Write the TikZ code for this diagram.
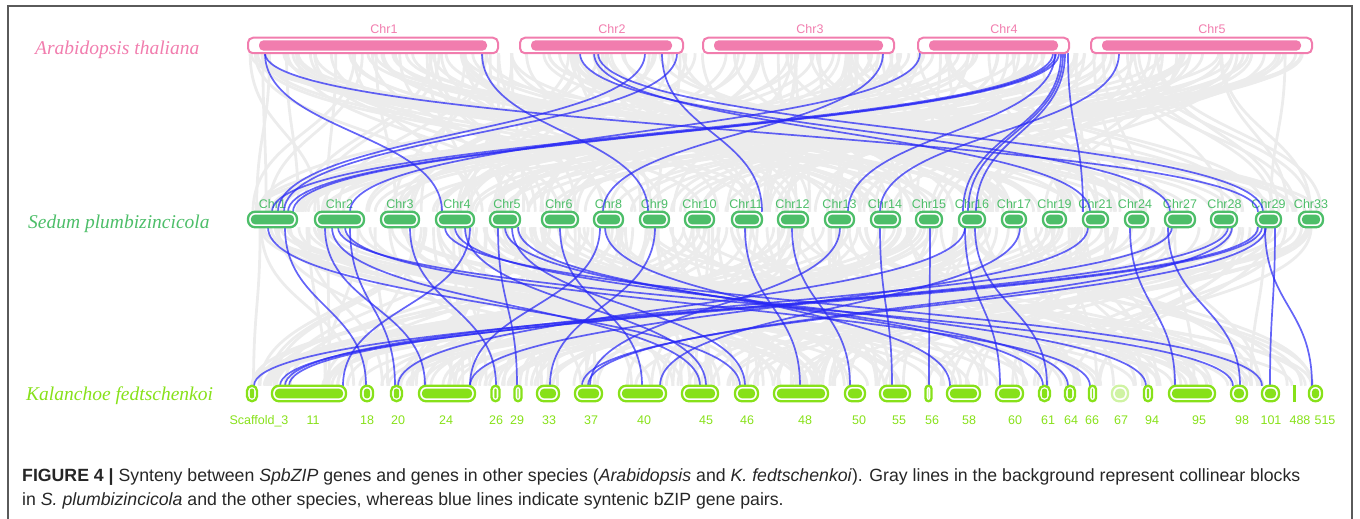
\documentclass[tikz,border=0pt]{standalone}
\usepackage{fontspec}
\setmainfont{Liberation Serif}
\setsansfont{Liberation Sans}
\usetikzlibrary{calc}
\definecolor{atpink}{RGB}{241,125,174}
\definecolor{spgreen}{RGB}{77,190,105}
\definecolor{klime}{RGB}{135,225,25}
\definecolor{synblue}{RGB}{40,40,245}
\definecolor{bggray}{RGB}{236,236,236}
\definecolor{framegray}{RGB}{90,90,90}
\pgfdeclarelayer{graylayer}
\pgfdeclarelayer{lablayer}
\pgfdeclarelayer{bluelayer}
\pgfsetlayers{graylayer,lablayer,bluelayer,main}
\tikzset{
  chrbase/.style={inner sep=0pt, outer sep=0pt, minimum height=15.5pt, fill=white, line width=2pt},
  atchr/.style={chrbase, draw=atpink, rounded corners=5pt,
    path picture={\fill[atpink, rounded corners=4.5pt] ([shift={(11pt,-2.6pt)}]path picture bounding box.north west) rectangle ([shift={(-11pt,2.6pt)}]path picture bounding box.south east);}},
  spchr/.style={chrbase, draw=spgreen, line width=2.3pt, rounded corners=7pt,
    path picture={\fill[spgreen, rounded corners=4.5pt] ([shift={(2.8pt,-2.8pt)}]path picture bounding box.north west) rectangle ([shift={(-2.8pt,2.8pt)}]path picture bounding box.south east);}},
  kchr/.style={chrbase, draw=#1, line width=2.3pt,
    path picture={\fill[#1, rounded corners=\ir pt] ([shift={(2.8pt,-2.8pt)}]path picture bounding box.north west) rectangle ([shift={(-2.8pt,2.8pt)}]path picture bounding box.south east);}},
  kchr/.default=klime,
  chrlab/.style={font=\sffamily\fontsize{12.5}{13}\selectfont, inner sep=0pt, anchor=base},
  species/.style={font=\itshape\fontsize{19.5}{20}\selectfont, inner sep=0pt, anchor=base west},
  blueln/.style={draw=synblue, draw opacity=0.72, line width=1.7pt},
  grayln/.style={draw=bggray, line width=2.8pt},
  captxt/.style={font=\sffamily\fontsize{17.7}{20}\selectfont, inner sep=0pt, anchor=base west, text=black!85},
}
\newcommand\kbox[5][klime]{%
  \pgfmathsetmacro\ir{max(0.4,min(#5-2.5,(#4-5.6)/2-0.1))}%
  \node[kchr=#1, minimum width=#4pt, rounded corners=#5pt] (#2) at (#3,393.5) {};}
\newcommand\tl[4]{\draw[blueln] let \p1=(#1.south), \p2=(#3.north) in (#2pt,\y1) .. controls (#2pt,\y1-78pt) and (#4pt,\y2+78pt) .. (#4pt,\y2);}
\newcommand\bl[4]{\draw[blueln] let \p1=(#1.south), \p2=(#3.north) in (#2pt,\y1) .. controls (#2pt,\y1-78pt) and (#4pt,\y2+78pt) .. (#4pt,\y2);}
\newcommand\gl[4]{\draw[grayln] let \p1=(#1.south), \p2=(#3.north) in (#2pt,\y1) .. controls (#2pt,\y1-78pt) and (#4pt,\y2+78pt) .. (#4pt,\y2);}
\begin{document}
\begin{tikzpicture}[x=1pt,y=-1pt]
\useasboundingbox (0,0) rectangle (1360,519);
% frame
\draw[framegray, line width=1.3pt] (8,519) -- (8,6) -- (1352,6) -- (1352,519);
% species names
\node[species, text=atpink] (atname) at (35,54.5) {Arabidopsis thaliana};
\node[species, text=spgreen] (spname) at (28,228) {Sedum plumbizincicola};
\node[species, text=klime] (kname) at (26,400) {Kalanchoe fedtschenkoi};
% Arabidopsis chromosomes
\node[atchr, minimum width=250pt] (at1) at (373,45.5) {};
\node[atchr, minimum width=163pt] (at2) at (601.5,45.5) {};
\node[atchr, minimum width=191pt] (at3) at (798.5,45.5) {};
\node[atchr, minimum width=151pt] (at4) at (993.5,45.5) {};
\node[atchr, minimum width=221pt] (at5) at (1201.5,45.5) {};
\foreach \n/\x in {1/384,2/612,3/810,4/1004,5/1212}{
  \node[chrlab, text=atpink] (atl\n) at (\x,34) {Chr\n};
}
% Sedum chromosomes
\foreach \n/\c/\w in {1/272.5/49,2/339.5/49,3/400/38,4/455/38,5/505/30,6/560/36,8/608.5/29,9/654.5/29,10/699.5/29,11/747/30,12/793/30,13/839.5/29,14/885.5/29,15/929/26,16/972/26,17/1014/24,19/1054.5/23,21/1095.5/25,24/1136.5/23,27/1180/30,28/1224/26,29/1268.5/25,33/1311/24}{
  \node[spchr, minimum width=\w pt] (sp\n) at (\c,219.5) {};
}
\begin{pgfonlayer}{lablayer}
\foreach \n/\c in {1/272.5,2/339.5,3/400,4/457,5/507,6/559,8/608.5,9/654.5,10/699.5,11/746,12/792.5,13/839.5,14/885,15/929,16/972,17/1014,19/1054.5,21/1095.5,24/1135,27/1180,28/1224.5,29/1268.5,33/1311}{
  \node[chrlab, text=spgreen] (spl\n) at (\c,208.5) {Chr\n};
}
\end{pgfonlayer}
% Kalanchoe chromosomes
\kbox{k3}{252}{10}{5}
\kbox{k11}{309}{74}{7}
\kbox{k18}{367}{12}{6}
\kbox{k20}{396.5}{11}{5.5}
\kbox{k24}{447}{56}{7}
\kbox{k26}{495.5}{8}{4}
\kbox{k29}{518}{7}{3.5}
\kbox{k33}{548}{22}{7}
\kbox{k37}{588.5}{27}{7}
\kbox{k40}{642.5}{47}{7}
\kbox{k45}{700}{36}{7}
\kbox{k46}{746.5}{23}{7}
\kbox{k48}{801}{54}{7}
\kbox{k50}{855}{20}{7}
\kbox{k55}{895}{30}{7}
\kbox{k56}{928.5}{6}{3}
\kbox{k58}{963.5}{33}{7}
\kbox{k60}{1009.5}{27}{7}
\kbox{k61}{1044.5}{11}{5.5}
\kbox{k64}{1070}{10}{5}
\kbox{k66}{1092.5}{7}{3.5}
\kbox[klime!40]{k67}{1120}{16}{7}
\kbox{k94}{1148}{8}{4}
\kbox{k95}{1192}{46}{7}
\kbox{k98}{1239}{16}{7}
\kbox{k101}{1270.5}{17}{7}
\node[inner sep=0pt, fill=klime, minimum width=3.5pt, minimum height=17pt] (k488) at (1294.5,393.5) {};
\kbox{k515}{1315.5}{13}{6.5}
\foreach \n/\l/\x in {k3/Scaffold\_3/259,k11/11/313,k18/18/367,k20/20/398,k24/24/446,k26/26/496,k29/29/517,k33/33/549,k37/37/591,k40/40/644,k45/45/706,k46/46/747,k48/48/805,k50/50/859,k55/55/899,k56/56/932,k58/58/969,k60/60/1015,k61/61/1048,k64/64/1071,k66/66/1092,k67/67/1121,k94/94/1152,k95/95/1199,k98/98/1242,k101/101/1271,k488/488/1300,k515/515/1325}{
  \node[chrlab, text=klime] (\n lab) at (\x,424) {\l};
}
% gray collinear background
\begin{pgfonlayer}{graylayer}
\pgfmathsetseed{11}
\foreach \i in {1,...,230}{
  \pgfmathsetmacro\xa{250+1062*rnd}
  \pgfmathsetmacro\xb{250+1072*rnd}
  \gl{at1}{\xa}{sp1}{\xb}
}
\foreach \i in {1,...,250}{
  \pgfmathsetmacro\xa{250+1072*rnd}
  \pgfmathsetmacro\xb{250+1070*rnd}
  \gl{sp1}{\xa}{k11}{\xb}
}
\end{pgfonlayer}
\begin{pgfonlayer}{bluelayer}
% syntenic blue pairs: Arabidopsis - Sedum
\tl{at1}{265}{sp4}{442}
\tl{at1}{265}{sp29}{1258}
\tl{at1}{482}{sp9}{648}
\tl{at2}{580}{sp27}{1170}
\tl{at2}{594}{sp21}{1090}
\tl{at2}{598}{sp29}{1263}
\tl{at2}{645}{sp1}{278}
\tl{at2}{677}{sp1}{284}
\tl{at2}{662}{sp11}{762}
\tl{at3}{883}{sp8}{603}
\tl{at4}{920}{sp2}{350}
\tl{at4}{1053}{sp1}{272}
\tl{at4}{1056}{sp1}{288}
\tl{at4}{1059}{sp1}{293}
\tl{at4}{1061}{sp16}{963}
\tl{at4}{1063}{sp16}{968}
\tl{at4}{1065}{sp16}{976}
\tl{at4}{1068}{sp21}{1083}
\tl{at4}{1055}{sp13}{848}
\tl{at5}{1119}{sp14}{880}
% syntenic blue pairs: Sedum - Kalanchoe
\bl{sp29}{1258}{k3}{254}
\bl{sp29}{1262}{k11}{280}
\bl{sp27}{1172}{k11}{285}
\bl{sp28}{1228}{k11}{289}
\bl{sp29}{1266}{k37}{582}
\bl{sp28}{1232}{k37}{588}
\bl{sp16}{965}{k20}{398}
\bl{sp21}{1088}{k24}{470}
\bl{sp2}{325}{k24}{425}
\bl{sp2}{332}{k45}{700}
\bl{sp2}{338}{k98}{1233}
\bl{sp2}{345}{k66}{1090}
\bl{sp2}{350}{k20}{395}
\bl{sp1}{268}{k46}{740}
\bl{sp1}{285}{k18}{366}
\bl{sp3}{410}{k26}{496}
\bl{sp4}{445}{k101}{1262}
\bl{sp4}{455}{k94}{1146}
\bl{sp4}{465}{k45}{706}
\bl{sp4}{470}{k11}{343}
\bl{sp5}{498}{k29}{517}
\bl{sp5}{505}{k64}{1068}
\bl{sp5}{512}{k46}{745}
\bl{sp5}{518}{k61}{1043}
\bl{sp6}{560}{k40}{642}
\bl{sp8}{600}{k24}{470}
\bl{sp8}{605}{k58}{950}
\bl{sp9}{655}{k33}{550}
\bl{sp11}{745}{k48}{800}
\bl{sp12}{792}{k50}{850}
\bl{sp13}{840}{k37}{590}
\bl{sp14}{880}{k55}{892}
\bl{sp15}{930}{k56}{929}
\bl{sp16}{965}{k60}{1000}
\bl{sp16}{975}{k61}{1047}
\bl{sp17}{1020}{k40}{660}
\bl{sp24}{1130}{k95}{1175}
\bl{sp27}{1168}{k98}{1240}
\bl{sp29}{1265}{k515}{1312}
\bl{sp29}{1275}{k101}{1270}
\end{pgfonlayer}
% caption
\node[captxt] (cap1) at (22,481) {\textbf{FIGURE 4 |} Synteny between \textit{SpbZIP} genes and genes in other species (\textit{Arabidopsis} and \textit{K. fedtschenkoi}). Gray lines in the background represent collinear blocks};
\node[captxt] (cap2) at (22,505) {in \textit{S. plumbizincicola} and the other species, whereas blue lines indicate syntenic bZIP gene pairs.};
\end{tikzpicture}
\end{document}
